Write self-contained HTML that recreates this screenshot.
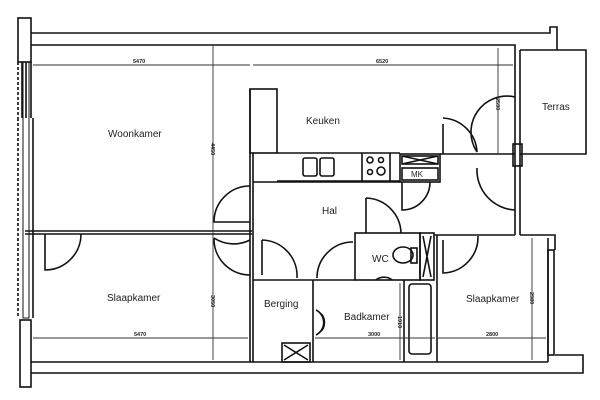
<!DOCTYPE html>
<html><head><meta charset="utf-8"><style>
html,body{margin:0;padding:0;background:#fff}
svg{display:block}
text{font-family:"Liberation Sans",sans-serif;fill:#222}
</style></head><body>
<svg width="600" height="400" viewBox="0 0 600 400" xmlns="http://www.w3.org/2000/svg">
<rect width="600" height="400" fill="#fff"/>
<g fill="none" stroke="#111" stroke-width="1.6">
<path d="M31 33 H550 V27 H557 V50"/>
<path d="M31 45 H515 V50"/>
<rect x="18" y="18" width="13" height="44"/>
<path d="M22 62 V118 M26 62 V118 M31 62 V118"/>
<path d="M18 62 V118" stroke-dasharray="3,2"/>
<rect x="23" y="62" width="6" height="256" stroke-width="1"/>
<path d="M18 118 V318" stroke-dasharray="3,2"/>
<path d="M33 118 V318"/>
<rect x="20" y="320" width="11" height="67"/>
<path d="M31 362 H548 M31 373 H583 V355 H555"/>
<path d="M520 50 H586 V154 H520"/>
<path d="M515 50 V235 M520 50 V235"/>
<rect x="513" y="144" width="9" height="22"/>
<path d="M520 235 H555 V250"/>
<path d="M548 238 V362"/>
<rect x="548" y="250" width="6" height="105"/>
<path d="M25 231 H252 M25 234 H252"/>
<rect x="250" y="89" width="27" height="64"/>
<path d="M250 89 V362 M253 153 V362"/>
<path d="M277 153 H400 M277 181 H400 M362 153 V181 M390 153 V181"/>
<rect x="303" y="158" width="14" height="18" rx="2"/>
<rect x="320" y="158" width="14" height="18" rx="2"/>
<circle cx="370" cy="160" r="3"/><circle cx="381" cy="160" r="2.5"/>
<circle cx="370" cy="172" r="2.5"/><circle cx="381" cy="171" r="4"/>
<rect x="400" y="154" width="40" height="28"/>
<rect x="402" y="156" width="36" height="8"/>
<path d="M402 156 L438 164 M438 156 L402 164"/>
<rect x="402" y="168" width="36" height="12"/>
<path d="M253 182 H400 M440 154 H515"/>
<path d="M443 124 V154 M443 118 A36 36 0 0 1 477 152"/>
<path d="M477 152 A36 36 0 0 1 515 97"/>
<path d="M402 182 V210 A28 28 0 0 0 430 182"/>
<path d="M477 168 A40 40 0 0 0 515 210"/>
<path d="M250 186 A36 36 0 0 0 214 222 H250"/>
<path d="M250 240 A36 36 0 0 1 214 238 M214 238 A36 36 0 0 0 250 275"/>
<path d="M45 234 V270 A36 36 0 0 0 81 234"/>
<path d="M262 240 V275 M262 240 A36 36 0 0 1 297 278"/>
<path d="M317 278 A36 36 0 0 1 353 242"/>
<path d="M366 198 V233 M366 198 A36 36 0 0 1 401 233"/>
<rect x="355" y="233" width="65" height="47"/>
<rect x="420" y="233" width="14" height="47"/>
<path d="M423 236 L431 277 M431 236 L423 277"/>
<ellipse cx="403" cy="255" rx="10" ry="8"/>
<rect x="411" y="248" width="6" height="15"/>
<path d="M376 280 A10 7 0 0 1 392 280"/>
<path d="M434 235 H515 M437 235 V362"/>
<path d="M443 240 V273 A36 36 0 0 0 478 236"/>
<path d="M253 280 H355 M313 280 V362 M404 280 V362"/>
<rect x="282" y="343" width="28" height="19"/>
<path d="M284 345 L308 360 M308 345 L284 360"/>
<rect x="409" y="284" width="22" height="70" rx="3"/>
<path d="M316 310 A14 14 0 0 1 316 335"/>
<path d="M320 313 A9 11 0 0 1 320 332"/>
</g>
<g stroke="#333" stroke-width="0.9" fill="none">
<path d="M33 65 H250 M253 65 H513"/>
<path d="M213 45 V360"/>
<path d="M498 48 V154"/>
<path d="M33 338 H248 M315 338 H435 M438 338 H546"/>
<path d="M400 283 V360 M532 238 V360"/>
</g>
<g font-size="5.5" font-weight="bold" fill="#222">
<text x="133" y="63">5470</text>
<text x="376" y="63">6520</text>
<text x="134" y="336">5470</text>
<text x="368" y="336">3000</text>
<text x="486" y="336">2800</text>
<text transform="translate(211,143) rotate(90)">4450</text>
<text transform="translate(211,295) rotate(90)">3050</text>
<text transform="translate(496,98) rotate(90)">2590</text>
<text transform="translate(398,316) rotate(90)">1910</text>
<text transform="translate(530,292) rotate(90)">2980</text>
</g>
<g font-size="10">
<text x="108" y="137">Woonkamer</text>
<text x="306" y="124">Keuken</text>
<text x="542" y="110">Terras</text>
<text x="322" y="214">Hal</text>
<text x="372" y="262">WC</text>
<text x="107" y="301">Slaapkamer</text>
<text x="264" y="307">Berging</text>
<text x="344" y="320">Badkamer</text>
<text x="466" y="302">Slaapkamer</text>
<text x="411" y="177" font-size="8">MK</text>
</g>
</svg>
</body></html>
